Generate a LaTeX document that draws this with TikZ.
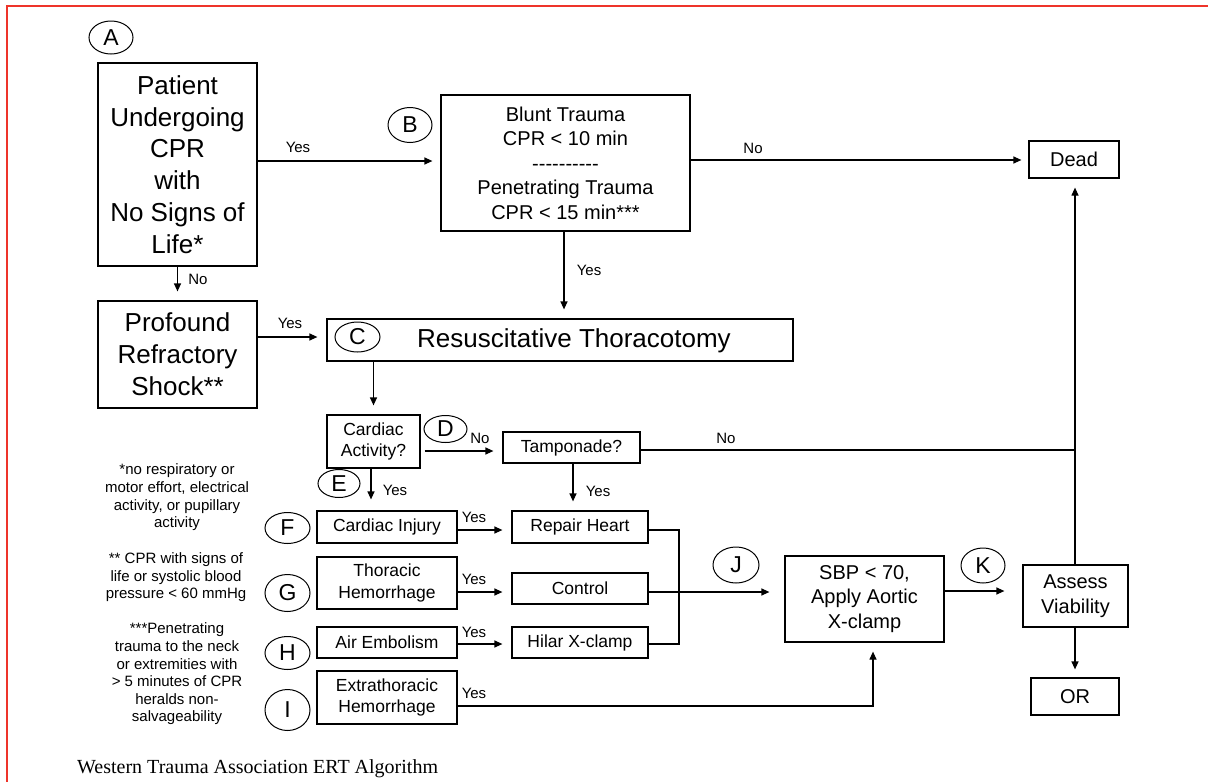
\documentclass[tikz,border=0pt]{standalone}
\usepackage{fontspec}
\setmainfont{Liberation Sans}
\newfontfamily\capfont{Liberation Serif}
\usetikzlibrary{arrows.meta,shapes.geometric}
\definecolor{framered}{RGB}{238,52,42}
\newcommand\hy{-\kern0pt}
\begin{document}
\begin{tikzpicture}[x=1pt,y=-1pt,
  box/.style={draw, line width=1.2pt, inner sep=0pt, align=center},
  lbl/.style={draw, ellipse, line width=1pt, inner sep=0pt, font=\fontsize{23}{23}\selectfont},
  yn/.style={font=\fontsize{15}{15}\selectfont, inner sep=0pt},
  arr/.style={line width=1.2pt, -{Triangle[length=8pt,width=7pt]}},
  ln/.style={line width=1.2pt},
  note/.style={align=center, font=\fontsize{15}{17.6}\selectfont, inner sep=0pt},
  big/.style={font=\fontsize{26}{31.8}\selectfont},
  mid/.style={font=\fontsize{20}{24.5}\selectfont},
  sml/.style={font=\fontsize{17.5}{21.5}\selectfont},
]
\useasboundingbox (0,0) rectangle (1208,782);
\draw[framered, line width=2pt] (7,782) -- (7,6) -- (1208,6);

% main boxes
\node[box, big, minimum width=159pt, minimum height=203pt] (A) at (177.5,164.5) {Patient\\Undergoing\\CPR\\with\\No Signs of\\Life*};
\node[lbl, minimum width=44pt, minimum height=33pt] (lA) at (111,37.5) {A};
\node[box, mid, minimum width=249pt, minimum height=136pt] (B) at (565.5,163) {Blunt Trauma\\CPR < 10 min\\\hy\hy\hy\hy\hy\hy\hy\hy\hy\hy\\Penetrating Trauma\\CPR < 15 min***};
\node[lbl, minimum width=44pt, minimum height=35pt] (lB) at (410,125) {B};
\node[box, mid, minimum width=90pt, minimum height=37pt] (dead) at (1074,159.5) {Dead};
\node[box, big, minimum width=159pt, minimum height=107pt] (P) at (177.5,354.5) {Profound\\Refractory\\Shock**};
\node[box, minimum width=466pt, minimum height=42pt] (C) at (560,340) {};
\node[big, inner sep=0pt] (Ct) at (574,341) {Resuscitative Thoracotomy};
\node[lbl, minimum width=45pt, minimum height=30pt] (lC) at (357.5,337) {C};
\node[box, sml, minimum width=93pt, minimum height=53pt] (card) at (373.5,441.5) {Cardiac\\Activity?};
\node[lbl, minimum width=43pt, minimum height=27pt] (lD) at (445.5,429) {D};
\node[box, sml, minimum width=137pt, minimum height=31pt] (tamp) at (571.5,447.5) {Tamponade?};
\node[lbl, minimum width=42pt, minimum height=28pt] (lE) at (339,483.5) {E};

% left column
\node[box, sml, minimum width=140pt, minimum height=32pt] (ci) at (387,527) {Cardiac Injury};
\node[box, sml, minimum width=140pt, minimum height=52pt] (th) at (387,583) {Thoracic\\Hemorrhage};
\node[box, sml, minimum width=140pt, minimum height=31pt] (ae) at (387,642.5) {Air Embolism};
\node[box, sml, minimum width=140pt, minimum height=53pt] (ex) at (387,697.5) {Extrathoracic\\Hemorrhage};
\node[lbl, minimum width=45pt, minimum height=31pt] (lF) at (287.5,528) {F};
\node[lbl, minimum width=45pt, minimum height=37pt] (lG) at (287.5,593) {G};
\node[lbl, minimum width=45pt, minimum height=33pt] (lH) at (287.5,653) {H};
\node[lbl, minimum width=45pt, minimum height=41pt] (lI) at (287.5,710) {I};

% middle column
\node[box, sml, minimum width=136pt, minimum height=32pt] (rep) at (580,527) {Repair Heart};
\node[box, sml, minimum width=136pt, minimum height=31pt] (ctl) at (580,588.5) {Control};
\node[box, sml, minimum width=136pt, minimum height=31pt] (hil) at (580,642.5) {Hilar X-clamp};
\node[lbl, minimum width=46pt, minimum height=36pt] (lJ) at (736,565) {J};

% right
\node[box, mid, minimum width=159pt, minimum height=86pt] (sbp) at (864.5,599) {SBP < 70,\\Apply Aortic\\X-clamp};
\node[lbl, minimum width=44pt, minimum height=35pt] (lK) at (983,565.5) {K};
\node[box, mid, minimum width=105pt, minimum height=62pt] (as) at (1075.5,596) {Assess\\Viability};
\node[box, mid, minimum width=88pt, minimum height=37pt] (OR) at (1075,696.5) {OR};

% connectors
\draw[arr, shorten >=8pt] (A.east |- 0,161) -- (B.west |- 0,161);
\node[yn] (y1) at (298,147) {Yes};
\draw[arr, shorten >=7pt] (B.east |- 0,160) -- (dead.west |- 0,160);
\node[yn] (n1) at (753,148) {No};
\draw[arr, shorten >=9pt] (A.south) -- (P.north);
\node[yn] (n2) at (198,279) {No};
\draw[arr, shorten >=9pt] (B.south -| 564,0) -- (C.north -| 564,0);
\node[yn] (y2) at (589,270) {Yes};
\draw[arr, shorten >=9pt] (P.east |- 0,337) -- (C.west |- 0,337);
\node[yn] (y3) at (290,323) {Yes};
\draw[arr, shorten >=9pt] (C.south -| card) -- (card.north);
\draw[arr, shorten <=4pt, shorten >=9pt] (card.east |- 0,451) -- (tamp.west |- 0,451);
\node[yn] (n3) at (480,438) {No};
\draw[arr, shorten >=11pt] (card.south -| 371,0) -- (ci.north -| 371,0);
\node[yn] (y4) at (395,490) {Yes};
\draw[arr, shorten >=9pt] (tamp.south -| 573,0) -- (rep.north -| 573,0);
\node[yn] (y5) at (598,491) {Yes};
\coordinate (jD) at (1075,450);
\draw[arr, shorten >=9pt] (as.north -| jD) -- (dead.south -| jD);
\draw[ln] (tamp.east |- jD) -- (jD);
\node[yn] (n4) at (726,438) {No};

\draw[arr, shorten >=9pt] (ci.east |- 0,530) -- (rep.west |- 0,530);
\node[yn] (y6) at (474,517) {Yes};
\draw[arr, shorten >=9pt] (th.east |- 0,592) -- (ctl.west |- 0,592);
\node[yn] (y7) at (474,579) {Yes};
\draw[arr, shorten >=9pt] (ae.east |- 0,644) -- (hil.west |- 0,644);
\node[yn] (y8) at (474,632) {Yes};
\draw[ln] (rep.east |- 0,530) -| (679,644) -- (hil.east |- 0,644);
\draw[arr, shorten >=15pt] (ctl.east |- 0,592) -- (sbp.west |- 0,592);
\draw[arr, shorten >=9pt] (ex.east |- 0,706) -| (sbp.south -| 873,0);
\node[yn] (y9) at (474,693) {Yes};
\draw[arr, shorten >=18pt] (sbp.east |- 0,591) -- (as.west |- 0,591);
\draw[arr, shorten >=8pt] (as.south -| jD) -- (OR.north -| jD);

% notes
\node[note] (f1) at (177,497.5) {*no respiratory or\\motor effort, electrical\\activity, or pupillary\\activity};
\node[note] (f2) at (176,577.5) {** CPR with signs of\\life or systolic blood\\pressure < 60 mmHg};
\node[note] (f3) at (177,674) {***Penetrating\\trauma to the neck\\or extremities with\\> 5 minutes of CPR\\heralds non-\\salvageability};
\node[anchor=base west, inner sep=0pt, font=\capfont\fontsize{20}{20}\selectfont] (cap) at (77,773) {Western Trauma Association ERT Algorithm};
\end{tikzpicture}
\end{document}
